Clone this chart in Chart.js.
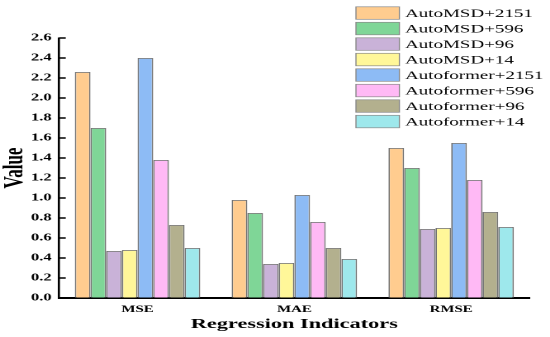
<!DOCTYPE html>
<html>
<head>
<meta charset="utf-8">
<script src="https://cdn.jsdelivr.net/npm/chart.js@4.4.1/dist/chart.umd.min.js"></script>
<style>
    html, body { margin: 0; padding: 0; background: #fff; overflow: hidden; }
    /* the reference looks stretched sideways, so draw narrow and stretch */
    #wrap { width: 333px; height: 337px; transform: scaleX(1.6517); transform-origin: 0 0; }
</style>
</head>
<body>
<div id="wrap"><canvas id="myChart"></canvas></div>
<script>
const labels = ['MSE', 'MAE', 'RMSE'];
const seriesNames = [
    'AutoMSD+2151',
    'AutoMSD+596',
    'AutoMSD+96',
    'AutoMSD+14',
    'Autoformer+2151',
    'Autoformer+596',
    'Autoformer+96',
    'Autoformer+14',
];
const autoMSD2151 = [2.26, 0.98, 1.50];
const autoMSD596 = [1.70, 0.85, 1.30];
const autoMSD96 = [0.47, 0.34, 0.69];
const autoMSD14 = [0.48, 0.35, 0.70];
const autoformer2151 = [2.40, 1.03, 1.55];
const autoformer596 = [1.38, 0.76, 1.18];
const autoformer96 = [0.73, 0.50, 0.86];
const autoformer14 = [0.50, 0.39, 0.71];
const colors = ['#FFCC8F', '#7FD697', '#C9B2D8', '#FFF799', '#8DBBF5', '#FFB9F5', '#B3B08E', '#9EE8EC'];

const values = [autoMSD2151, autoMSD596, autoMSD96, autoMSD14, autoformer2151, autoformer596, autoformer96, autoformer14];

Chart.defaults.font.family = "'Liberation Serif', 'Times New Roman', serif";
Chart.defaults.color = '#000';

// legend drawn by hand, it sits over the top right corner
const sideLegend = {
    id: 'sideLegend',
    afterDraw(chart) {
        const ctx = chart.ctx;
        ctx.save();
        chart.data.datasets.forEach((ds, i) => {
            const y = 6.8 + i * 15.5;
            ctx.fillStyle = ds.backgroundColor;
            ctx.fillRect(215.5, y, 26.3, 12.5);
            ctx.strokeStyle = '#8a8a8a';
            ctx.lineWidth = 0.7;
            ctx.strokeRect(215.5, y, 26.3, 12.5);
            ctx.fillStyle = '#000';
            ctx.font = "11.5px 'Liberation Serif'";
            ctx.textBaseline = 'middle';
            ctx.fillText(ds.label, 245.2, y + 7);
        });
        ctx.restore();
    }
};

// tick marks point into the plot
const innerTicks = {
    id: 'innerTicks',
    afterDraw(chart) {
        const sc = chart.scales.y;
        const ctx = chart.ctx;
        ctx.save();
        ctx.strokeStyle = '#000';
        ctx.lineWidth = 1.5;
        sc.ticks.forEach(t => {
            const py = sc.getPixelForValue(t.value);
            ctx.beginPath();
            ctx.moveTo(sc.right, py);
            ctx.lineTo(sc.right + 4, py);
            ctx.stroke();
        });
        ctx.restore();
    }
};

let ctx = document.getElementById('myChart');

var myChart = new Chart(ctx, {
    type: 'bar',
    data: {
        labels: labels,
        datasets: seriesNames.map((name, i) => ({
            label: name,
            data: values[i],
            backgroundColor: colors[i],
            borderColor: '#737373',
            borderWidth: 0.9,
            categoryPercentage: 0.8,
            barPercentage: 1.0,
        })),
    },
    options: {
        responsive: true,
        maintainAspectRatio: false,
        animation: false,
        devicePixelRatio: 2,
        layout: { padding: { left: 0, right: 12.4, top: 38, bottom: 0 } },
        plugins: {
            legend: { display: false },
            tooltip: { enabled: false },
        },
        scales: {
            x: {
                grid: { display: true, drawOnChartArea: false, drawTicks: false },
                border: { color: '#000', width: 2 },
                ticks: { font: { size: 9, weight: 'bold' }, padding: 6.5 },
                title: {
                    display: true,
                    text: 'Regression Indicators',
                    font: { size: 13.5, weight: 'bold' },
                    padding: { top: 0, bottom: 4.5 },
                },
                afterFit(s) { s.height = 39; },
            },
            y: {
                min: 0,
                max: 2.6,
                grid: { display: true, drawOnChartArea: false, drawTicks: false },
                border: { color: '#000', width: 1.3 },
                ticks: {
                    stepSize: 0.2,
                    padding: 4.5,
                    font: { size: 10, weight: 'bold' },
                    callback: v => v.toFixed(1),
                },
                title: {
                    display: true,
                    text: 'Value',
                    font: { size: 17, weight: 'bold', lineHeight: 1 },
                    padding: { top: 0.5, bottom: 0 },
                },
                afterFit(s) { s.width = 35.8; },
            },
        },
    },
    plugins: [sideLegend, innerTicks],
});
</script>
</body>
</html>
